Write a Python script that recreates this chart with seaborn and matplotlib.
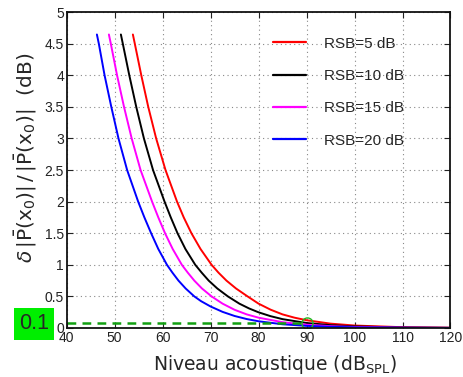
import matplotlib
matplotlib.use("Agg")
import matplotlib.pyplot as plt
import seaborn as sns
import pandas as pd

# ---- data ----
labels = ["RSB=5 dB", "RSB=10 dB", "RSB=15 dB", "RSB=20 dB"]
colors = ["#ff0000", "#000000", "#ff00ff", "#0000ff"]

x_rsb5 = [53.8, 54.2, 55.55, 57.0, 58.65, 60.6, 63.0, 64.4, 66.0, 67.9, 70.2, 71.65, 73.3, 75.3, 77.7,
          80, 82.5, 85, 87.5, 90, 95, 100, 110, 120]
y_rsb5 = [4.645, 4.5, 4.0, 3.5, 3.0, 2.5, 2.0, 1.75, 1.5, 1.25, 1.0, 0.875, 0.75, 0.625, 0.5,
          0.385, 0.29, 0.215, 0.163, 0.123, 0.069, 0.039, 0.0124, 0.004]

x_rsb10 = [51.3, 51.7, 53.05, 54.5, 56.1, 58.0, 60.4, 61.7, 63.1, 64.75, 66.8, 68.15, 69.6, 71.4, 73.6,
           76, 78, 80, 82.5, 85, 90, 95, 100, 110, 120]
y_rsb10 = [4.645, 4.5, 4.0, 3.5, 3.0, 2.5, 2.0, 1.75, 1.5, 1.25, 1.0, 0.875, 0.75, 0.625, 0.5,
           0.385, 0.31, 0.248, 0.187, 0.14, 0.079, 0.045, 0.025, 0.008, 0.0025]

x_rsb15 = [48.8, 49.2, 50.5, 51.95, 53.55, 55.4, 57.8, 59.1, 60.5, 62.1, 64.0, 65.25, 66.6, 68.2, 70.2,
           72.5, 75, 77.5, 80, 85, 90, 95, 100, 110, 120]
y_rsb15 = [4.645, 4.5, 4.0, 3.5, 3.0, 2.5, 2.0, 1.75, 1.5, 1.25, 1.0, 0.875, 0.75, 0.625, 0.5,
           0.385, 0.288, 0.216, 0.163, 0.092, 0.052, 0.029, 0.0165, 0.0052, 0.0017]

x_rsb20 = [46.3, 46.7, 47.9, 49.3, 50.8, 52.6, 54.9, 56.2, 57.6, 59.1, 60.9, 62.05, 63.3, 64.8, 66.6,
           68, 70, 72.5, 75, 77.5, 80, 85, 90, 95, 100, 110, 120]
y_rsb20 = [4.645, 4.5, 4.0, 3.5, 3.0, 2.5, 2.0, 1.75, 1.5, 1.25, 1.0, 0.875, 0.75, 0.625, 0.5,
           0.425, 0.34, 0.255, 0.19, 0.142, 0.106, 0.059, 0.0335, 0.019, 0.0106, 0.0034, 0.001]

xticks = [40, 50, 60, 70, 80, 90, 100, 110, 120]
yticks = [0, 0.5, 1, 1.5, 2, 2.5, 3, 3.5, 4, 4.5, 5]
ytick_labels = ["0", "0.5", "1", "1.5", "2", "2.5", "3", "3.5", "4", "4.5", "5"]

thr_level = 0.075
thr_x = [40, 90]
thr_label = "0.1"

series_x = [x_rsb5, x_rsb10, x_rsb15, x_rsb20]
series_y = [y_rsb5, y_rsb10, y_rsb15, y_rsb20]
rows = []
for lab, xs, ys in zip(labels, series_x, series_y):
    for xv, yv in zip(xs, ys):
        rows.append({"x": xv, "y": yv, "serie": lab})
df = pd.DataFrame(rows)

# ---- style ----
sns.set_theme(style="ticks")
plt.rcParams["font.family"] = ["Liberation Sans", "DejaVu Sans"]
plt.rcParams["mathtext.fontset"] = "custom"
plt.rcParams["mathtext.rm"] = "DejaVu Sans"
plt.rcParams["mathtext.it"] = "DejaVu Sans:italic"
plt.rcParams["mathtext.sf"] = "DejaVu Sans"

fig = plt.figure(figsize=(4.63, 3.77), dpi=100)
ax = fig.add_axes([0.144, 0.130, 0.829, 0.838])

sns.lineplot(data=df, x="x", y="y", hue="serie", hue_order=labels,
             palette=dict(zip(labels, colors)), sort=False, estimator=None,
             linewidth=1.4, ax=ax, legend=True)

ax.plot(thr_x, [thr_level, thr_level], color="#11a011", linestyle=(0, (3.5, 2.5)), linewidth=1.8)
ax.plot([thr_x[1]], [thr_level], marker="o", markersize=8, markerfacecolor="none",
        markeredgecolor="#22bb22", markeredgewidth=1.0, linestyle="none")

ax.set_xlim(40, 120)
ax.set_ylim(0, 5)
ax.set_xticks(xticks)
ax.set_yticks(yticks)
ax.set_yticklabels(ytick_labels)
ax.tick_params(direction="in", top=True, right=True, length=4, width=0.8,
               labelsize=10, colors="#222222", pad=2)
ax.grid(True, linestyle=(0, (1, 3)), color="#888888", linewidth=0.8)
for s in ax.spines.values():
    s.set_linewidth(1.3)
    s.set_color("#111111")

ax.set_xlabel(r"Niveau acoustique $(\mathrm{dB}_{\mathrm{SPL}})$", fontsize=13.5,
              family="DejaVu Sans")
ax.xaxis.set_label_coords(0.542, -0.078)
ax.set_ylabel(r"$\delta\,|\bar{\mathrm{P}}(\mathrm{x}_0)|\,/\,|\bar{\mathrm{P}}(\mathrm{x}_0)|$  (dB)",
              fontsize=14.5, family="DejaVu Sans")
ax.yaxis.set_label_coords(-0.073, 0.54)

leg = ax.legend(loc="upper left", bbox_to_anchor=(0.537, 0.922), frameon=False,
                fontsize=11, handlelength=2.2, handletextpad=1.15, labelspacing=1.2,
                borderpad=0, borderaxespad=0)
for line in leg.get_lines():
    line.set_linewidth(1.6)

ax.text(-0.085, 0.013, thr_label, transform=ax.transAxes, fontsize=15.5,
        ha="center", va="center", clip_on=False,
        bbox=dict(boxstyle="square,pad=0.25", facecolor="#00ee00", edgecolor="none"))

fig.savefig("out.png", dpi=100)
